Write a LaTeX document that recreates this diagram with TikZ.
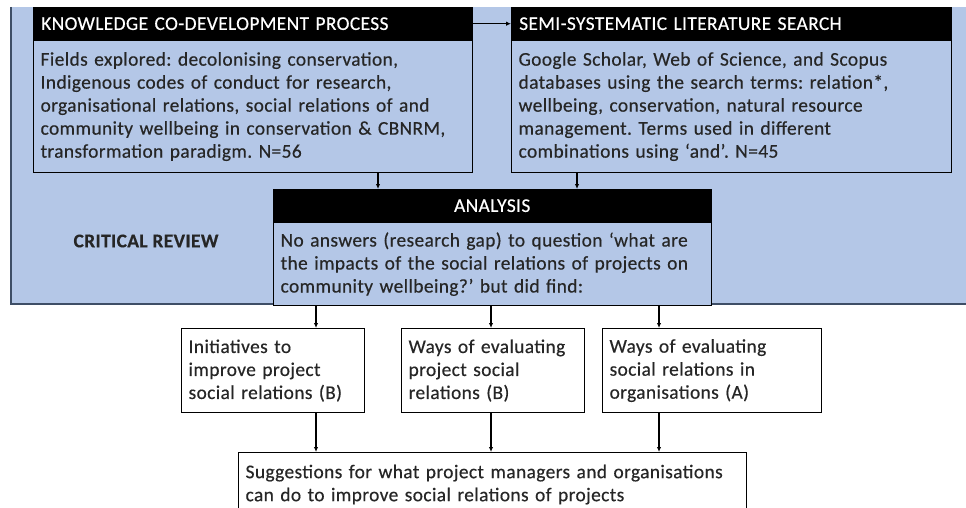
\documentclass[tikz,border=0pt]{standalone}
\usepackage{fontspec}
\setmainfont{Carlito}[LetterSpace=2,FakeBold=0.4]
\usetikzlibrary{arrows.meta}

\definecolor{reviewblue}{RGB}{180,199,231}
\definecolor{reviewedge}{RGB}{62,78,102}
\frenchspacing

\tikzset{
  txt/.style={font=\fontsize{19.4}{23}\selectfont, text=black!85},
  headbox/.style={txt, draw=black, fill=black, text=white, anchor=north west,
    inner xsep=8pt, inner ysep=0pt, minimum height=33pt, align=left},
  bodybox/.style={txt, draw=black, line width=1.2pt, fill=reviewblue, anchor=north west,
    inner xsep=7pt, inner ysep=0pt, align=left},
  findbox/.style={txt, draw=black, line width=1.2pt, fill=white, anchor=north west,
    inner xsep=7pt, inner ysep=0pt, align=left},
  arr/.style={line width=1.1pt, -{Latex[length=5pt,width=4.5pt]}},
}

\begin{document}
\begin{tikzpicture}[x=1pt,y=-1pt]
\clip (0,0) rectangle (966,508);
\fill[white] (0,0) rectangle (966,508);

% Critical review panel
\fill[reviewblue] (11,7) rectangle (966,304);
\draw[reviewedge,line width=1.5pt] (11,7) -- (11,304) -- (966,304);
\node[txt,font=\fontsize{19.4}{23}\selectfont\bfseries] (review) at (146,241) {CRITICAL REVIEW};

% Knowledge co-development (left)
\node[headbox,minimum width=439pt,text width=423pt] (kcphead) at (33,7) {KNOWLEDGE CO-DEVELOPMENT PROCESS};
\node[bodybox,minimum width=439pt,text width=425pt,minimum height=132pt] (kcp) at (33,40)
  {Fields explored: decolonising conservation,\\
   Indigenous codes of conduct for research,\\
   organisational relations, social relations of and\\
   community wellbeing in conservation \& CBNRM,\\
   transformation paradigm. N=56};

% Literature search (right)
\node[headbox,minimum width=440pt,text width=424pt] (semihead) at (511,7) {SEMI-SYSTEMATIC LITERATURE SEARCH};
\node[bodybox,minimum width=440pt,text width=426pt,minimum height=132pt] (semi) at (511,40)
  {Google Scholar, Web of Science, and Scopus\\
   databases using the search terms: relation*,\\
   wellbeing, conservation, natural resource\\
   management. Terms used in different\\
   combinations using ‘and’. N=45};

% Analysis
\node[headbox,align=center,minimum width=438pt,text width=422pt] (anahead) at (273,189) {ANALYSIS};
\node[bodybox,minimum width=438pt,text width=424pt,minimum height=83pt] (ana) at (273,222)
  {No answers (research gap) to question ‘what are\\
   the impacts of the social relations of projects on\\
   community wellbeing?’ but did find:};

% Findings
\node[findbox,minimum width=183pt,text width=169pt,minimum height=84pt] (init) at (181,328)
  {Initiatives to\\ improve project\\ social relations (B)};
\node[findbox,minimum width=183pt,text width=169pt,minimum height=84pt] (evalproj) at (401,328)
  {Ways of evaluating\\ project social\\ relations (B)};
\node[findbox,minimum width=219pt,text width=205pt,minimum height=84pt] (evalorg) at (602,328)
  {Ways of evaluating\\ social relations in\\ organisations (A)};
\node[findbox,minimum width=508pt,text width=494pt,minimum height=64pt] (suggest) at (238,452)
  {Suggestions for what project managers and organisations\\
   can do to improve social relations of projects};

% Arrows
\coordinate (xa) at (378,0);
\coordinate (xb) at (577,0);
\coordinate (x1) at (316,0);
\coordinate (x2) at (491,0);
\coordinate (x3) at (659,0);
\draw[arr] (kcphead.east) -- (semihead.west);
\draw[arr] (kcp.south -| xa) -- (anahead.north -| xa);
\draw[arr] (semi.south -| xb) -- (anahead.north -| xb);
\foreach \c/\b in {x1/init, x2/evalproj, x3/evalorg} {
  \draw[arr] (ana.south -| \c) -- (\b.north -| \c);
  \draw[arr] (\b.south -| \c) -- (suggest.north -| \c);
}
\end{tikzpicture}
\end{document}
